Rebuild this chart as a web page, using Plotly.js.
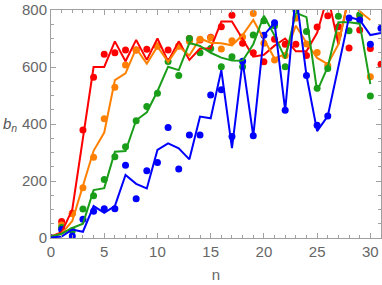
<!DOCTYPE html>
<html>
<head>
<meta charset="utf-8">
<script src="https://cdn.plot.ly/plotly-3.0.1.min.js"></script>
<style>html,body{margin:0;padding:0;background:#fff}#chart{width:382px;height:285px}</style>
</head>
<body>
<div id="chart"></div>
<script>
// n values
const nVals = [0,1,2,3,4,5,6,7,8,9,10,11,12,13,14,15,16,17,18,19,20,21,22,23,24,25,26,27,28,29,30,31];

// sampled points (dots)
const redPts    = [0,58,87,379,564,645,650,660,660,662,674,660,674,700,695,704,741,782,683,650,618,697,680,680,640,740,780,741,667,730,665,610];
const orangePts = [0,46,85,176,283,418,529,607,660,null,674,null,674,690,697,703,663,692,705,788,683,625,640,771,681,651,605,712,830,778,566,null];
const greenPts  = [0,37,25,102,148,205,285,320,411,461,508,619,570,700,650,665,601,636,601,712,762,745,601,800,725,525,595,778,727,783,498,null];
const bluePts   = [0,30,7,66,94,103,103,255,138,236,265,388,242,361,361,502,520,356,620,359,711,755,448,830,570,396,428,null,772,765,680,736];

// joined curves
const redLine    = [5,20,100,350,600,600,690,620,695,625,700,620,690,625,665,665,760,760,700,636,643,675,700,655,655,720,850,680,850,870,870];
const orangeLine = [5,15,60,180,306,370,554,578,665,612,672,618,672,640,700,685,683,676,712,765,700,630,645,745,685,632,610,680,850,795,765];
const greenLine  = [5,15,35,50,168,175,303,305,413,441,515,601,589,684,674,650,633,623,622,680,780,710,630,790,775,515,600,757,757,752,540];
const blueLine   = [2,5,30,22,112,88,112,221,190,174,309,332,315,276,426,420,589,315,620,358,712,755,448,860,570,375,428,600,775,765,712,719];

// axis ticks
const xTicks = [0,5,10,15,20,25,30];
const yTicks = [0,200,400,600,800];

const colors = {red:'#ff0000', orange:'#ff8000', green:'#1a9e1a', blue:'#0000ff'};
const series = [
  ['red', redPts, redLine],
  ['orange', orangePts, orangeLine],
  ['green', greenPts, greenLine],
  ['blue', bluePts, blueLine]
];

const traces = [];
series.forEach(([c, pts, ln]) => {
  traces.push({x: nVals.slice(0, pts.length), y: pts, mode:'markers', type:'scatter',
    marker:{color: colors[c], size:7}, hoverinfo:'x+y'});
});
series.forEach(([c, pts, ln]) => {
  traces.push({x: nVals.slice(0, ln.length), y: ln, mode:'lines', type:'scatter',
    line:{color: colors[c], width:2}, hoverinfo:'x+y'});
});

const axisCommon = {
  showline:true, linecolor:'#a0a0a0', linewidth:1, mirror:'ticks',
  ticks:'inside', ticklen:5, tickcolor:'#a0a0a0', tickwidth:1,
  showgrid:false, zeroline:false,
  tickfont:{family:'Liberation Sans, Arial, sans-serif', size:15, color:'#666'}
};

const layout = {
  width:382, height:285,
  margin:{l:51, r:1, t:10, b:47},
  showlegend:false,
  paper_bgcolor:'#fff', plot_bgcolor:'#fff',
  xaxis: Object.assign({}, axisCommon, {
    range:[0,31], tickvals:xTicks, ticktext:xTicks.map(String),
    minor:{dtick:1, ticks:'inside', ticklen:3, tickcolor:'#a0a0a0'},
    title:{text:'n', font:{family:'Liberation Sans, Arial, sans-serif', size:15, color:'#666'}, standoff:10}
  }),
  yaxis: Object.assign({}, axisCommon, {
    range:[0,800], tickvals:yTicks, ticktext:yTicks.map(String),
    minor:{dtick:50, ticks:'inside', ticklen:3, tickcolor:'#a0a0a0'}
  }),
  annotations:[{
    text:'<i>b</i><sub><i>n</i></sub>', xref:'paper', yref:'paper', x:-0.152, y:0.5,
    xanchor:'left', yanchor:'middle', showarrow:false,
    font:{family:'Liberation Sans, Arial, sans-serif', size:15, color:'#555'}
  }]
};

Plotly.newPlot('chart', traces, layout, {staticPlot:true, displayModeBar:false});
</script>
</body>
</html>
